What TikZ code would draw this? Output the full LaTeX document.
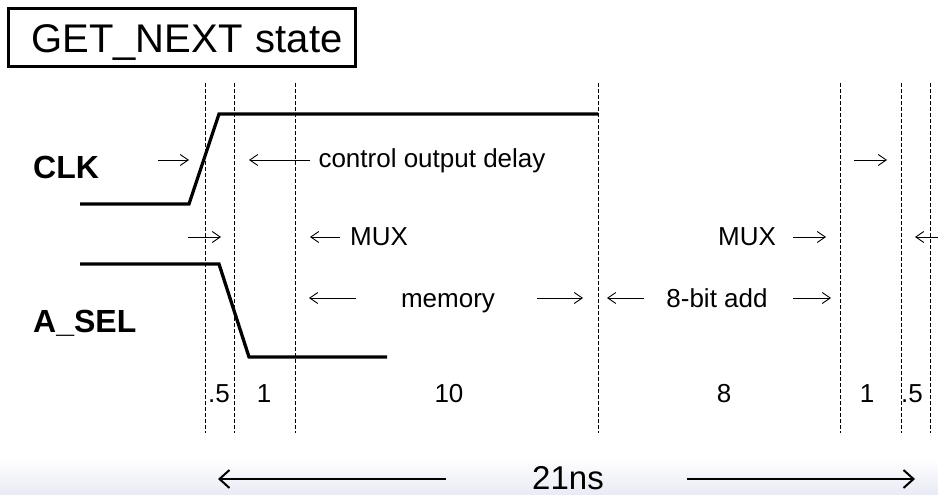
\documentclass[tikz,border=0pt]{standalone}
\usepackage{fontspec}
\setmainfont{Liberation Sans}
\usetikzlibrary{arrows.meta}
\definecolor{ink}{HTML}{000000}
\definecolor{band}{HTML}{E8EAF5}
\tikzset{
  wave/.style={draw=ink, line width=3.3pt, line join=miter},
  tline/.style={draw=ink, line width=0.9pt, dash pattern=on 4pt off 2pt},
  dly/.style={draw=ink, line width=0.9pt, -{Straight Barb[length=8pt,width=11pt]}},
  total/.style={draw=ink, line width=2pt, -{Straight Barb[length=10pt,width=18pt]}},
  lab/.style={text=ink, inner sep=0pt, anchor=base, font=\fontsize{26}{30}\selectfont},
  sig/.style={text=ink, inner sep=0pt, anchor=base west, font=\fontsize{32}{38}\selectfont\bfseries},
  titlebox/.style={draw=ink, line width=3pt, text width=322pt, align=right,
    inner xsep=12.5pt, inner ysep=0pt, text height=29pt, text depth=0pt,
    minimum height=58pt, font=\fontsize{40}{48}\selectfont},
}

\begin{document}
\begin{tikzpicture}[x=1pt, y=-1pt]
  \useasboundingbox (0,0) rectangle (938,495);
  % shaded strip at the foot
  \shade[top color=white, bottom color=band] (0,458) rectangle (938,495);
  \node[titlebox] (title) at (181.5,38) {GET\_NEXT state};

  % time marks
  \foreach \X/\x in {t0/205,t1/234,t2/295,t3/598,t4/840,t5/901,t6/930} {
    \coordinate (\X) at (\x,83);
    \draw[tline] (\X) -- ++(0,350);
  }

  % signals
  \node[sig] (clk) at (33,178) {CLK};
  \node[sig] (asel) at (33,332) {A\_SEL};
  \draw[wave] (80,204) -- (189,204) -- (219,114) -- (598,114);
  \draw[wave] (80,264) -- (219,264) -- (249,357) -- (387,357);

  % delay labels
  \node[lab] (cod) at (432,167) {control output delay};
  \node[lab] (muxa) at (379,245) {MUX};
  \node[lab] (muxb) at (747,245) {MUX};
  \node[lab] (mem) at (448,307) {memory};
  \node[lab] (add) at (717,307) {8-bit add};
  \foreach \a/\b/\y [count=\i] in {158/189/160, 310/249/160, 854/887/160,
      188/221/237, 340/310/237, 793/826/237, 938/915/237,
      356/309/298, 537/583/298, 644/607/298, 793/831/298} {
    \coordinate (a\i) at (\a,\y);
    \coordinate (b\i) at (\b,\y);
    \draw[dly] (a\i) -- (b\i);
  }

  % durations
  \foreach \n/\x [count=\i] in {.5/219, 1/264, 10/449, 8/724, 1/867, .5/912}
    \node[lab] (d\i) at (\x,402) {\n};

  % total time
  \node[lab, font=\fontsize{33}{40}\selectfont] (tot) at (568,489) {21ns};
  \coordinate (sl) at (446,479);
  \coordinate (el) at (218,479);
  \coordinate (sr) at (687,479);
  \coordinate (er) at (915,479);
  \draw[total] (sl) -- (el);
  \draw[total] (sr) -- (er);
\end{tikzpicture}
\end{document}
